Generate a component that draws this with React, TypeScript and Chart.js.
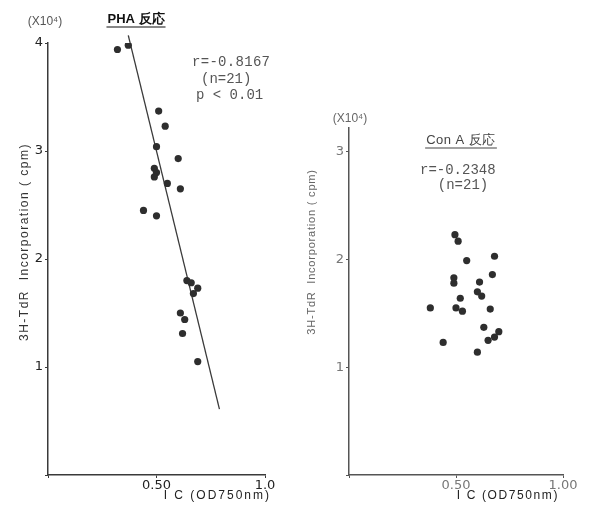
import React, { useEffect, useRef } from 'react';
import { Chart, registerables } from 'chart.js';
Chart.register(...registerables);

// PHA response (left panel)
const phaX = [0.32, 0.37, 0.51, 0.54, 0.50, 0.60, 0.49, 0.50, 0.49, 0.55, 0.61, 0.44, 0.50, 0.64, 0.66, 0.69, 0.67, 0.61, 0.63, 0.62, 0.69];
const phaY = [3.94, 3.98, 3.37, 3.23, 3.04, 2.93, 2.84, 2.80, 2.76, 2.70, 2.65, 2.45, 2.40, 1.80, 1.78, 1.73, 1.68, 1.50, 1.44, 1.31, 1.05];
const phaLineX = [0.37, 0.79];
const phaLineY = [4.07, 0.61];

// ConA response (right panel)
const conaX = [0.495, 0.51, 0.55, 0.68, 0.67, 0.49, 0.49, 0.61, 0.60, 0.62, 0.52, 0.38, 0.50, 0.53, 0.66, 0.63, 0.70, 0.68, 0.65, 0.44, 0.60];
const conaY = [2.23, 2.17, 1.99, 2.03, 1.86, 1.83, 1.78, 1.79, 1.70, 1.66, 1.64, 1.55, 1.55, 1.52, 1.54, 1.37, 1.33, 1.28, 1.25, 1.23, 1.14];

// tick values and labels
const xTickValues = [0, 0.5, 1.0];
const phaXTickLabels = ['', '0.50', '1.0'];
const conaXTickLabels = ['', '0.50', '1.00'];
const phaYTickValues = [0, 1, 2, 3, 4];
const phaYTickLabels = ['', '1', '2', '3', '4'];
const conaYTickValues = [0, 1, 2, 3];
const conaYTickLabels = ['', '1', '2', '3'];

const yTitle = '3H-TdR  Incorporation ( cpm)';
const xTitle = 'I C (OD750nm)';

type TextItem = {
  text: string; x: number; y: number; font: string; color: string;
  align?: CanvasTextAlign; rotate?: boolean; underline?: boolean; spacing?: string;
};

const textPlugin = {
  id: 'texts',
  afterDraw(chart: any) {
    const items: TextItem[] = chart.options.plugins.texts?.items || [];
    const ctx = chart.ctx as CanvasRenderingContext2D;
    for (const it of items) {
      ctx.save();
      ctx.font = it.font;
      ctx.fillStyle = it.color;
      ctx.strokeStyle = it.color;
      ctx.textAlign = it.align || 'center';
      ctx.textBaseline = 'middle';
      (ctx as any).letterSpacing = it.spacing || '0px';
      ctx.translate(it.x, it.y);
      if (it.rotate) ctx.rotate(-Math.PI / 2);
      ctx.fillText(it.text, 0, 0);
      if (it.underline) {
        const w = ctx.measureText(it.text).width;
        let x0 = 0;
        if (ctx.textAlign === 'center') x0 = -w / 2;
        else if (ctx.textAlign === 'right') x0 = -w;
        ctx.lineWidth = 1.2;
        ctx.beginPath();
        ctx.moveTo(x0 - 1, 8);
        ctx.lineTo(x0 + w + 1, 8);
        ctx.stroke();
      }
      ctx.restore();
    }
  },
};

function makeConfig(p: {
  xs: number[]; ys: number[]; lineX?: number[]; lineY?: number[];
  yMax: number; yTickValues: number[]; yTickLabels: string[]; xTickLabels: string[];
  padding: any; yWidth: number; axisColor: string; tickColor: string; texts: TextItem[];
}) {
  const datasets: any[] = [
    {
      type: 'scatter',
      data: p.xs.map((x, i) => ({ x, y: p.ys[i] })),
      pointRadius: 3.6,
      pointBackgroundColor: '#2e2e2e',
      pointBorderWidth: 0,
      pointBorderColor: '#2e2e2e',
    },
  ];
  if (p.lineX && p.lineY) {
    datasets.push({
      type: 'line',
      data: p.lineX.map((x, i) => ({ x, y: p.lineY![i] })),
      borderColor: '#3a3a3a',
      borderWidth: 1.3,
      pointRadius: 0,
      fill: false,
      clip: false,
    });
  }
  const tickFont = { family: '"DejaVu Sans", sans-serif', size: 13 };
  return {
    type: 'scatter',
    data: { datasets },
    plugins: [textPlugin],
    options: {
      animation: false,
      responsive: false,
      events: [],
      layout: { padding: p.padding },
      plugins: {
        legend: { display: false },
        tooltip: { enabled: false },
        texts: { items: p.texts },
      },
      scales: {
        x: {
          type: 'linear',
          min: 0,
          max: 1,
          afterFit: (s: any) => { s.height = 40; },
          afterBuildTicks: (s: any) => { s.ticks = xTickValues.map((v) => ({ value: v })); },
          ticks: {
            autoSkip: false,
            maxRotation: 0,
            padding: 0,
            color: p.tickColor,
            font: tickFont,
            callback: (_v: any, i: number) => p.xTickLabels[i],
          },
          grid: { display: true, drawOnChartArea: false, drawTicks: true, tickLength: 3, color: p.axisColor },
          border: { display: true, color: p.axisColor, width: 1.5 },
        },
        y: {
          type: 'linear',
          min: 0,
          max: p.yMax,
          afterFit: (s: any) => { s.width = p.yWidth; },
          afterBuildTicks: (s: any) => { s.ticks = p.yTickValues.map((v) => ({ value: v })); },
          ticks: {
            autoSkip: false,
            padding: 2,
            color: p.tickColor,
            font: tickFont,
            callback: (_v: any, i: number) => p.yTickLabels[i],
          },
          grid: { display: true, drawOnChartArea: false, drawTicks: true, tickLength: 3, color: p.axisColor },
          border: { display: true, color: p.axisColor, width: 1.5 },
        },
      },
    },
  } as any;
}

const sans = '"Liberation Sans", Arial, sans-serif';
const mono = '"Liberation Mono", "DejaVu Sans Mono", monospace';

function Panel(props: { left: number; width: number; config: any }) {
  const ref = useRef<HTMLCanvasElement | null>(null);
  useEffect(() => {
    const chart = new Chart(ref.current as HTMLCanvasElement, props.config);
    return () => chart.destroy();
  }, []);
  return (
    <canvas
      ref={ref}
      width={props.width}
      height={515}
      style={{ position: 'absolute', left: props.left, top: 0, width: props.width, height: 515 }}
    />
  );
}

export default function App() {
  const leftConfig = makeConfig({
    xs: phaX, ys: phaY, lineX: phaLineX, lineY: phaLineY,
    yMax: 4, yTickValues: phaYTickValues, yTickLabels: phaYTickLabels, xTickLabels: phaXTickLabels,
    padding: { left: 0, right: 35, top: 43, bottom: 0 }, yWidth: 48,
    axisColor: '#3a3a3a', tickColor: '#222',
    texts: [
      { text: '(X10⁴)', x: 45, y: 22, font: `12px ${sans}`, color: '#555' },
      { text: 'PHA 反応', x: 136, y: 19, font: `bold 13px ${sans}`, color: '#111', underline: true },
      { text: 'r=-0.8167', x: 192, y: 62, font: `14px ${mono}`, color: '#555', align: 'left', spacing: '0.3px' },
      { text: '(n=21)', x: 201, y: 79, font: `14px ${mono}`, color: '#555', align: 'left' },
      { text: 'p < 0.01', x: 196, y: 95, font: `14px ${mono}`, color: '#555', align: 'left' },
      { text: yTitle, x: 25, y: 242, font: `12px ${sans}`, color: '#333', rotate: true, spacing: '1.5px' },
      { text: xTitle, x: 271, y: 496, font: `12px ${sans}`, color: '#222', align: 'right', spacing: '2px' },
    ],
  });
  const rightConfig = makeConfig({
    xs: conaX, ys: conaY,
    yMax: 3.22, yTickValues: conaYTickValues, yTickLabels: conaYTickLabels, xTickLabels: conaXTickLabels,
    padding: { left: 0, right: 27, top: 128, bottom: 0 }, yWidth: 49,
    axisColor: '#555', tickColor: '#777',
    texts: [
      { text: '(X10⁴)', x: 50, y: 119, font: `12px ${sans}`, color: '#666' },
      { text: 'Con A 反応', x: 161, y: 140, font: `13px ${sans}`, color: '#444', underline: true, spacing: '0.5px' },
      { text: 'r=-0.2348', x: 120, y: 170, font: `14px ${mono}`, color: '#555', align: 'left' },
      { text: '(n=21)', x: 163, y: 185, font: `14px ${mono}`, color: '#555' },
      { text: yTitle, x: 12, y: 252, font: `11px ${sans}`, color: '#666', rotate: true, spacing: '0.8px' },
      { text: xTitle, x: 259, y: 496, font: `12px ${sans}`, color: '#222', align: 'right', spacing: '1.6px' },
    ],
  });
  return (
    <div style={{ position: 'absolute', left: 0, top: 0, width: 590, height: 515, background: '#fff' }}>
      <Panel left={0} width={300} config={leftConfig} />
      <Panel left={300} width={290} config={rightConfig} />
    </div>
  );
}
